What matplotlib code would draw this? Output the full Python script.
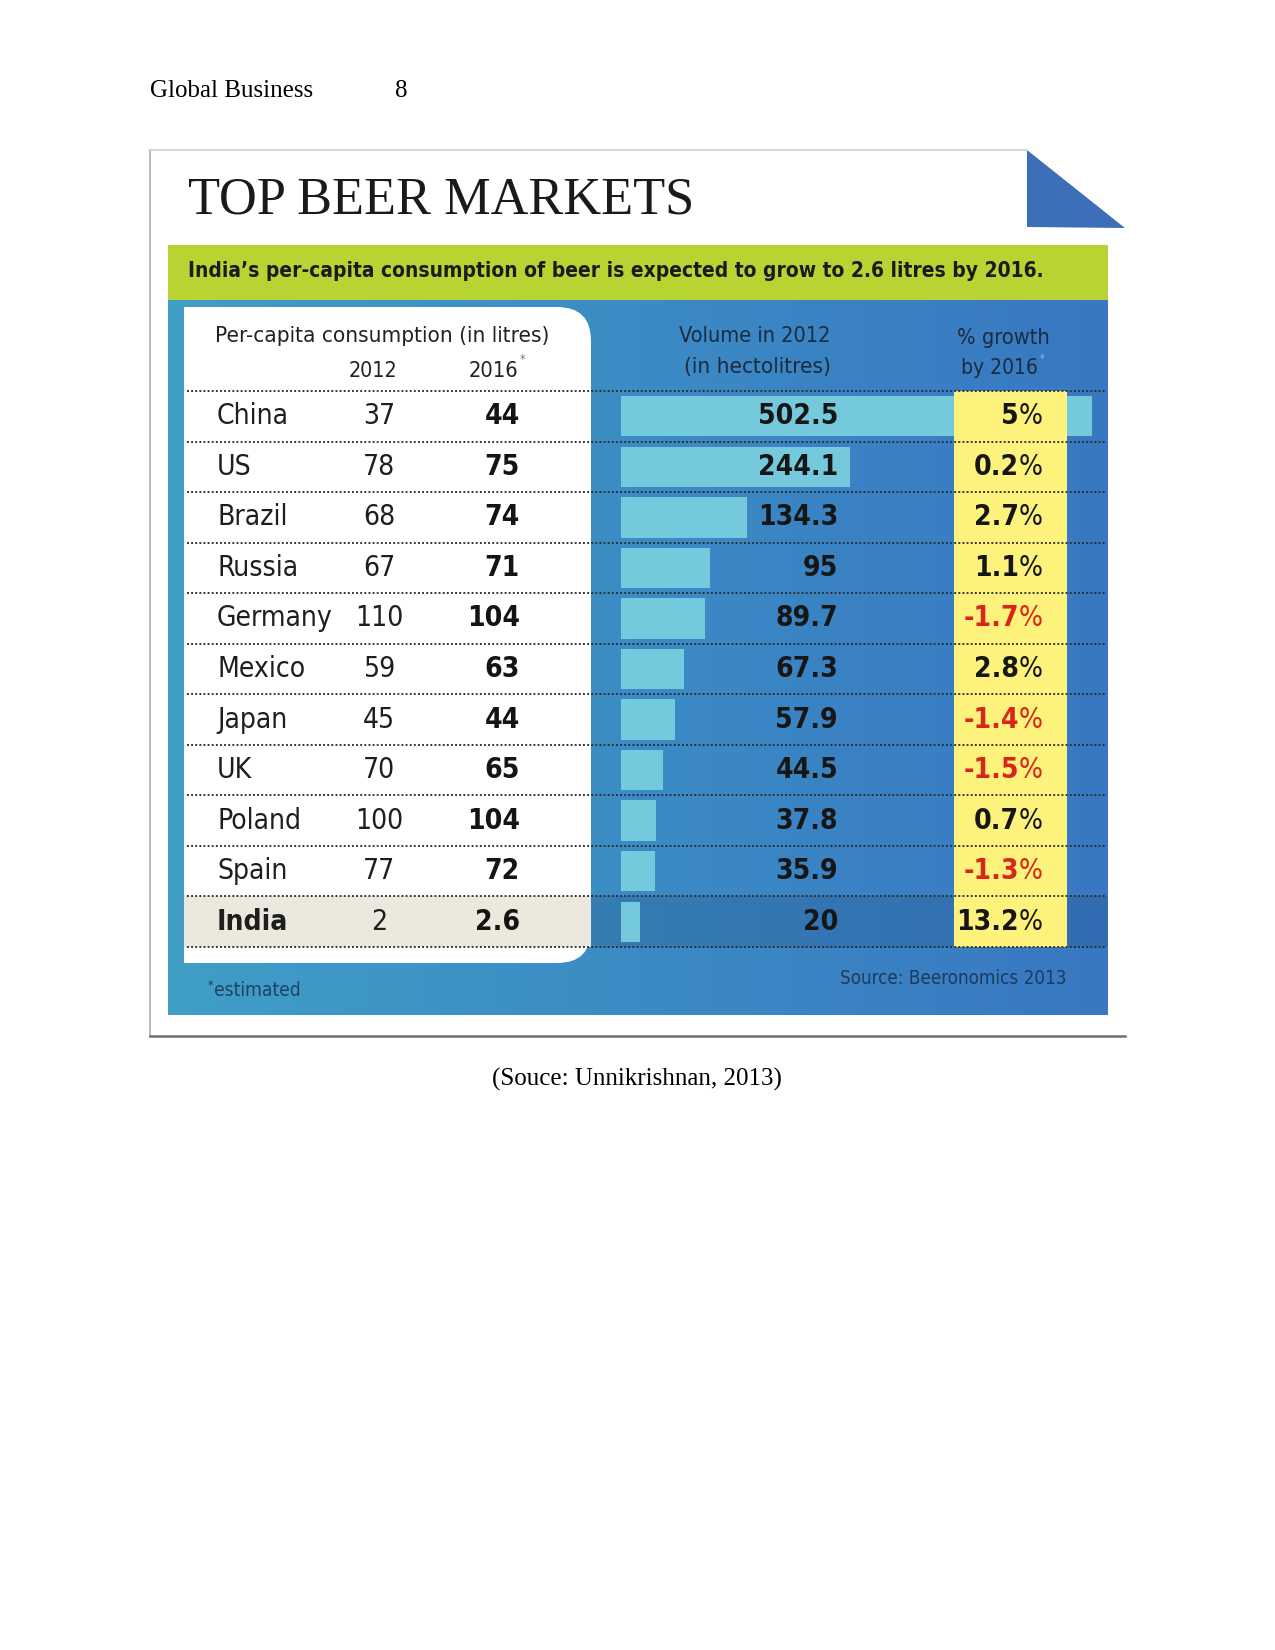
import numpy as np
import matplotlib
matplotlib.use("Agg")
import matplotlib.pyplot as plt
import matplotlib.font_manager as fm
from matplotlib.patches import Rectangle, FancyBboxPatch, Polygon
from matplotlib.transforms import blended_transform_factory

countries = ["China", "US", "Brazil", "Russia", "Germany", "Mexico",
             "Japan", "UK", "Poland", "Spain", "India"]
pc_2012 = ["37", "78", "68", "67", "110", "59", "45", "70", "100", "77", "2"]
pc_2016 = ["44", "75", "74", "71", "104", "63", "44", "65", "104", "72", "2.6"]
volume_2012 = [502.5, 244.1, 134.3, 95, 89.7, 67.3, 57.9, 44.5, 37.8, 35.9, 20]
growth_2016 = [5, 0.2, 2.7, 1.1, -1.7, 2.8, -1.4, -1.5, 0.7, -1.3, 13.2]

names = {f.name for f in fm.fontManager.ttflist}
if "Liberation Sans Narrow" in names:
    COND = dict(family="Liberation Sans Narrow")
else:
    COND = dict(family="DejaVu Sans", stretch="condensed")
SERIF = dict(family="Liberation Serif")

W, H = 1275, 1650
fig = plt.figure(figsize=(W / 150, H / 150), dpi=150)
ax = fig.add_axes([0, 0, 1, 1])
ax.set_xlim(0, W); ax.set_ylim(H, 0); ax.axis("off")
R = fig.canvas.get_renderer()


def fit(t, width):
    # shrink/grow a text so it spans `width` pixels
    w = t.get_window_extent(R).width
    t.set_fontsize(t.get_fontsize() * width / w)
    return t


# page header + caption
ax.text(150, 91, "Global Business", fontsize=12, va="center", **SERIF)
ax.text(395, 91, "8", fontsize=12, va="center", **SERIF)
ax.text(637, 1079, "(Souce: Unnikrishnan, 2013)", fontsize=12, ha="center", va="center", **SERIF)

# frame around the image
ax.plot([150, 150], [150, 1036], color="#b0b0b0", lw=0.8)
ax.plot([150, 1027], [150, 150], color="#d0d0d0", lw=0.8)
ax.plot([150, 1125], [1036, 1036], color="#707070", lw=1.2)
ax.add_patch(Polygon([[1027, 150], [1027, 227], [1125, 228]], closed=True,
                     facecolor="#3c6fb7", edgecolor="none"))

fit(ax.text(188, 200, "TOP BEER MARKETS", fontsize=25, va="center", color="#1a1a1a", **SERIF), 507)

# green subtitle band
ax.add_patch(Rectangle((168, 245), 940, 55, facecolor="#b8d433", edgecolor="none"))
fit(ax.text(188, 271, "India\u2019s per-capita consumption of beer is expected to grow to 2.6 litres by 2016.",
            fontsize=12, fontweight="bold", va="center", color="#1b1b1b", **COND), 855)

# blue panel with horizontal gradient
grad = np.linspace(0, 1, 256)[None, :, None]
c0 = np.array([0.25, 0.62, 0.78]); c1 = np.array([0.22, 0.47, 0.76])
ax.imshow(c0 + (c1 - c0) * grad, extent=[168, 1108, 1015, 300], aspect="auto", zorder=1)

# white table panel, rounded on the right side
ax.add_patch(FancyBboxPatch((188, 311), 399, 648, boxstyle="round,pad=0,rounding_size=34",
                            facecolor="#1d4f7a", edgecolor="none", alpha=0.25, zorder=2))
ax.add_patch(FancyBboxPatch((184, 307), 407, 656, boxstyle="round,pad=0,rounding_size=34",
                            facecolor="white", edgecolor="none", zorder=3))
ax.add_patch(Rectangle((184, 307), 200, 656, facecolor="white", edgecolor="none", zorder=3))

hdr = dict(color="#222222", va="center", zorder=5, fontsize=12, **COND)
fit(ax.text(215, 336, "Per-capita consumption (in litres)", **hdr), 333)
fit(ax.text(373, 371, "2012", ha="center", **hdr), 49)
fit(ax.text(493, 371, "2016", ha="center", **hdr), 50)
ax.text(520, 360, "*", fontsize=6, color="#777777", va="center", zorder=5, **COND)
hdr2 = dict(color="#1c2b3c", va="center", zorder=5, fontsize=12, **COND)
fit(ax.text(755, 336, "Volume in 2012", ha="center", **hdr2), 152)
fit(ax.text(757, 367, "(in hectolitres)", ha="center", **hdr2), 147)
fit(ax.text(957, 338, "% growth", **hdr2), 93)
fit(ax.text(961, 368, "by 2016", **hdr2), 77)
ax.text(1040, 359, "*", fontsize=5, color="#aac4dd", va="center", zorder=5, **COND)

ax.text(208, 986, "*", fontsize=6, color="#1d4266", va="center", zorder=5, **COND)
fit(ax.text(214, 990, "estimated", fontsize=12, color="#1d4266", va="center", zorder=5, **COND), 86)
fit(ax.text(1066, 979, "Source: Beeronomics 2013", fontsize=12, color="#1e3a5c",
            ha="right", va="center", zorder=5, **COND), 227)

# table axes: bars in data units, rows as y
bx0, bx1, ty0, ty1 = 621, 1108, 391, 947
at = fig.add_axes([bx0 / W, 1 - ty1 / H, (bx1 - bx0) / W, (ty1 - ty0) / H])
at.patch.set_visible(False); at.axis("off")
n = len(countries)
at.set_ylim(n - 0.5, -0.5)
at.set_xlim(0, 502.5 * (bx1 - bx0) / 471)
tr = blended_transform_factory(ax.transData, at.transData)
rows = np.arange(n)

# India highlight row
at.add_patch(Rectangle((184, n - 1.5), 407, 1, transform=tr, facecolor="#ebe8dd",
                       edgecolor="none", clip_on=False, zorder=1))
at.add_patch(Rectangle((591, n - 1.5), 517, 1, transform=tr, facecolor="#1f4f80",
                       edgecolor="none", alpha=0.25, clip_on=False, zorder=1))

at.barh(rows, volume_2012, height=0.8, color="#74cadc", zorder=2)

# yellow growth column
at.add_patch(Rectangle((954, -0.5), 113, n, transform=tr, facecolor="#fdf27c",
                       edgecolor="none", clip_on=False, zorder=3))

for y in np.arange(-0.5, n, 1.0):
    at.plot([187, 1105], [y, y], transform=tr, color="#2b2b2b", lw=0.9,
            ls=(0, (1, 1.2)), clip_on=False, zorder=4)

cell = dict(transform=tr, va="center", clip_on=False, zorder=5, fontsize=13.5, **COND)
for i in rows:
    bold = "bold" if countries[i] == "India" else "normal"
    at.text(217, i, countries[i], color="#1e1e1e", fontweight=bold, **cell)
    at.text(379, i, pc_2012[i], color="#1e1e1e", ha="center", **cell)
    at.text(520, i, pc_2016[i], color="#141414", ha="right", fontweight="bold", **cell)
    at.text(838, i, f"{volume_2012[i]:g}", color="#161616", ha="right", fontweight="bold", **cell)
    g = growth_2016[i]
    col = "#d8261c" if g < 0 else "#161616"
    pct = at.text(1043, i, "%", color=col, ha="right", **cell)
    xl = ax.transData.inverted().transform(pct.get_window_extent(R).p0)[0]
    at.text(xl, i, f"{g:g}", color=col, ha="right", fontweight="bold", **cell)

fig.savefig("out.png", dpi=150)
